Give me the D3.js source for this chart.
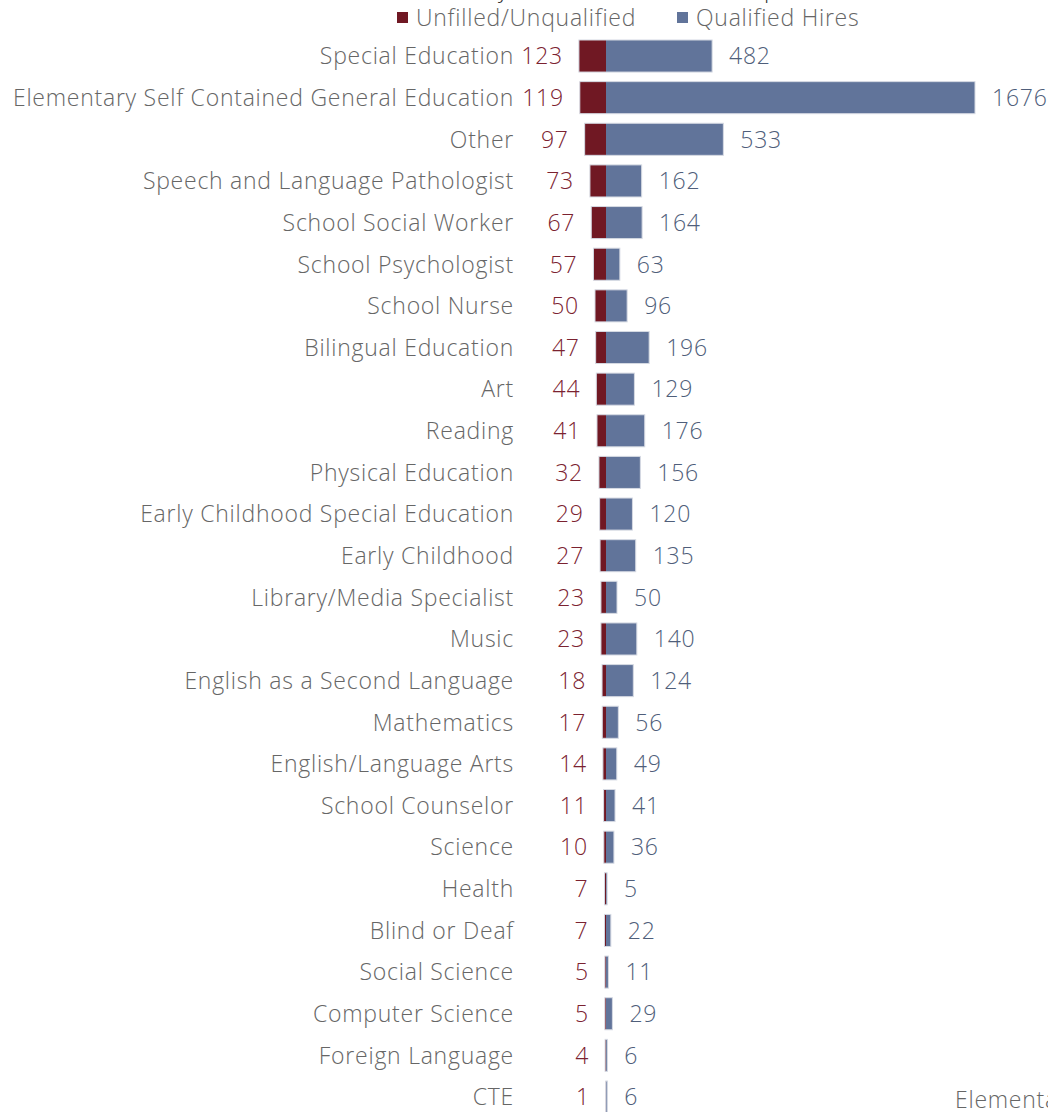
<!DOCTYPE html>
<html>
<head>
<meta charset="utf-8">
<script src="https://cdn.jsdelivr.net/npm/d3@7"></script>
<style>
  html, body { margin: 0; padding: 0; background: #fff; overflow: hidden; }
  svg { display: block; font-family: "Open Sans", "Noto Sans", sans-serif; font-weight: 300; letter-spacing: 0.75px; }
</style>
</head>
<body>
<div id="chart-area"></div>
<script>
let unfilledColor = "#701823";
let qualifiedColor = "#61749A";
let unfilledText = "#7B2230";
let qualifiedText = "#4F5E7A";
let labelGray = "#666666";

const categories = [
  "Special Education", "Elementary Self Contained General Education", "Other",
  "Speech and Language Pathologist", "School Social Worker", "School Psychologist",
  "School Nurse", "Bilingual Education", "Art", "Reading", "Physical Education",
  "Early Childhood Special Education", "Early Childhood", "Library/Media Specialist",
  "Music", "English as a Second Language", "Mathematics", "English/Language Arts",
  "School Counselor", "Science", "Health", "Blind or Deaf", "Social Science",
  "Computer Science", "Foreign Language", "CTE"
];
const unfilled = [123, 119, 97, 73, 67, 57, 50, 47, 44, 41, 32, 29, 27, 23, 23, 18, 17, 14, 11, 10, 7, 7, 5, 5, 4, 1];
const qualified = [482, 1676, 533, 162, 164, 63, 96, 196, 129, 176, 156, 120, 135, 50, 140, 124, 56, 49, 41, 36, 5, 22, 11, 29, 6, 6];
const legendLabels = ["Unfilled/Unqualified", "Qualified Hires"];

const data = categories.map((c, i) => ({ name: c, unfilled: unfilled[i], qualified: qualified[i] }));

const width = 1048;
const height = 1112;
const centerX = 606;
const fontSize = 23;

const svg = d3.select("#chart-area")
  .append("svg")
  .attr("width", width)
  .attr("height", height);

// same scale both sides, bars grow out from the centre line
const x = d3.scaleLinear().domain([0, 1676]).range([0, 369]);

const y = d3.scaleBand()
  .domain(categories)
  .range([35.2, 35.2 + 26 * 41.64])
  .paddingInner(0.23)
  .paddingOuter(0.115);

// title, mostly above the visible area
const title = svg.append("text")
  .attr("y", -3)
  .style("font-size", fontSize + "px")
  .style("fill", "#333")
  .text("Unfilled Positions by Certification Area Compared to New Hires");
const yIdx = title.text().indexOf("by") + 1;
const yOffset = title.node().getSubStringLength(0, yIdx);
title.attr("x", 498 - yOffset);

// legend
const legend = svg.append("g");
const legendX = [397, 677];
const legendColors = [unfilledColor, qualifiedColor];
legendLabels.forEach((lab, i) => {
  legend.append("rect")
    .attr("x", legendX[i]).attr("y", 12)
    .attr("width", 11).attr("height", 11)
    .attr("fill", legendColors[i]);
  legend.append("text")
    .attr("x", legendX[i] + 19).attr("y", 26)
    .style("font-size", fontSize + "px")
    .style("fill", labelGray)
    .text(lab);
});

const row = svg.selectAll(".row")
  .data(data)
  .enter()
  .append("g")
  .attr("class", "row")
  .attr("transform", (d) => `translate(0, ${y(d.name)})`);

const bh = y.bandwidth();

row.append("rect")
  .attr("x", (d) => centerX - x(d.unfilled))
  .attr("y", 0)
  .attr("width", (d) => x(d.unfilled))
  .attr("height", bh)
  .attr("fill", unfilledColor);

row.append("rect")
  .attr("x", centerX)
  .attr("y", 0)
  .attr("width", (d) => x(d.qualified))
  .attr("height", bh)
  .attr("fill", qualifiedColor);

// light outline round each pair
row.append("rect")
  .attr("x", (d) => centerX - x(d.unfilled))
  .attr("y", 0)
  .attr("width", (d) => x(d.unfilled) + x(d.qualified))
  .attr("height", bh)
  .attr("fill", "none")
  .attr("stroke", "#D6DAE3")
  .attr("stroke-width", 1);

//labels
row.append("text")
  .attr("x", 514)
  .attr("y", bh / 2)
  .attr("dy", "0.36em")
  .style("text-anchor", "end")
  .style("font-size", fontSize + "px")
  .style("fill", labelGray)
  .text((d) => d.name);

row.append("text")
  .attr("x", (d) => centerX - x(d.unfilled) - 16)
  .attr("y", bh / 2)
  .attr("dy", "0.36em")
  .style("text-anchor", "end")
  .style("font-size", fontSize + "px")
  .style("fill", unfilledText)
  .text((d) => d.unfilled);

row.append("text")
  .attr("x", (d) => centerX + x(d.qualified) + 17)
  .attr("y", bh / 2)
  .attr("dy", "0.36em")
  .style("text-anchor", "start")
  .style("font-size", fontSize + "px")
  .style("fill", qualifiedText)
  .text((d) => d.qualified);

// start of the next chart's title, cut by the edge
svg.append("text")
  .attr("x", 955)
  .attr("y", 1108)
  .style("font-size", fontSize + "px")
  .style("fill", labelGray)
  .text("Elementary");
</script>
</body>
</html>
